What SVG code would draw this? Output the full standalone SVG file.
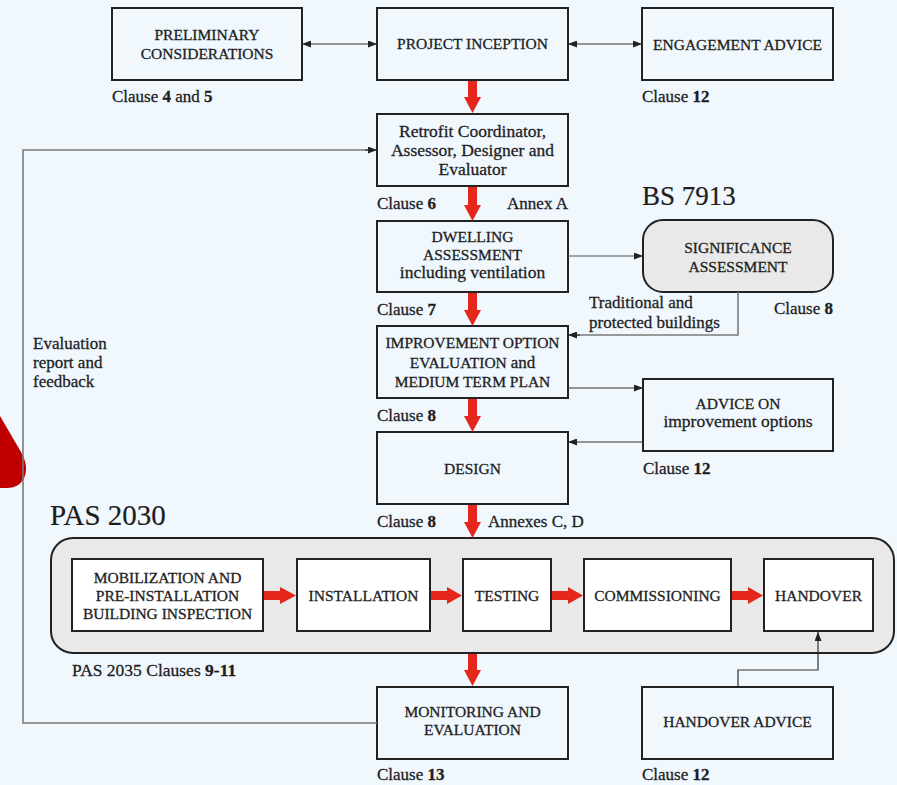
<svg xmlns="http://www.w3.org/2000/svg" width="897" height="785" viewBox="0 0 897 785">
<defs>
<style>
.bg{fill:#f0f8fe}
.box{fill:none;stroke:#222;stroke-width:2}
.wbox{fill:#fff;stroke:#222;stroke-width:2}
.gbox{fill:#e9e9e9;stroke:#222;stroke-width:2}
.red{fill:#e5261a}
.ln{fill:none;stroke:#333;stroke-width:1.2}
.gl{fill:none;stroke:#7a7a7a;stroke-width:1.6}
text{font-family:"Liberation Serif","DejaVu Serif",serif;fill:#1e1e1e;stroke:#1e1e1e;stroke-width:0.3}
.c{font-size:15.5px;text-anchor:middle}
.cm{font-size:17.5px;text-anchor:middle}
.l{font-size:17px}
.b{font-weight:bold}
.big{font-size:27px;stroke-width:0.2}
</style>
<marker id="ah" markerUnits="userSpaceOnUse" markerWidth="9" markerHeight="7" refX="9" refY="3.5" orient="auto">
<path d="M0,0 L9,3.5 L0,7 z" fill="#222"/>
</marker>
<marker id="as" markerUnits="userSpaceOnUse" markerWidth="9" markerHeight="7" refX="0" refY="3.5" orient="auto">
<path d="M9,0 L0,3.5 L9,7 z" fill="#222"/>
</marker>
</defs>
<rect class="bg" x="0" y="0" width="897" height="785"/>
<path d="M0,416 L21,452 Q30,468 23,480 Q17,489 5,488 L0,488 Z" fill="#c00000"/>

<g id="preliminary">
<rect class="box" x="112" y="8" width="190" height="72"/>
<text class="c" x="207" y="40">PRELIMINARY</text>
<text class="c" x="207" y="59">CONSIDERATIONS</text>
<text class="l" x="112" y="102">Clause <tspan class="b">4</tspan> and <tspan class="b">5</tspan></text>
</g>
<g id="inception">
<rect class="box" x="377" y="8" width="191" height="72"/>
<text class="c" x="472.5" y="49">PROJECT INCEPTION</text>
</g>
<g id="engagement">
<rect class="box" x="642" y="8" width="191" height="72"/>
<text class="c" x="737.5" y="50">ENGAGEMENT ADVICE</text>
<text class="l" x="642" y="102">Clause <tspan class="b">12</tspan></text>
</g>
<g id="retrofit">
<rect class="box" x="377" y="114" width="191" height="72"/>
<text class="cm" x="472.5" y="137">Retrofit Coordinator,</text>
<text class="cm" x="472.5" y="156">Assessor, Designer and</text>
<text class="cm" x="472.5" y="175">Evaluator</text>
<text class="l" x="377" y="209">Clause <tspan class="b">6</tspan></text>
<text class="l" x="568" y="209" text-anchor="end">Annex A</text>
</g>
<g id="dwelling">
<rect class="box" x="377" y="221" width="191" height="71"/>
<text class="c" x="472.5" y="242">DWELLING</text>
<text class="c" x="472.5" y="260">ASSESSMENT</text>
<text class="cm" x="472.5" y="278">including ventilation</text>
<text class="l" x="377" y="315">Clause <tspan class="b">7</tspan></text>
</g>
<g id="significance">
<text class="big" x="642" y="205">BS 7913</text>
<rect class="gbox" x="643" y="220" width="190" height="72" rx="20"/>
<text class="c" x="738" y="253">SIGNIFICANCE</text>
<text class="c" x="738" y="272">ASSESSMENT</text>
<text class="l" x="833" y="314" text-anchor="end">Clause <tspan class="b">8</tspan></text>
<text class="l" x="589" y="308">Traditional and</text>
<text class="l" x="589" y="328">protected buildings</text>
</g>
<g id="improvement">
<rect class="box" x="377" y="326" width="191" height="72"/>
<text class="c" x="472.5" y="348">IMPROVEMENT OPTION</text>
<text class="c" x="472.5" y="368">EVALUATION <tspan style="font-size:17px">and</tspan></text>
<text class="c" x="472.5" y="387">MEDIUM TERM PLAN</text>
<text class="l" x="377" y="421">Clause <tspan class="b">8</tspan></text>
</g>
<g id="advice">
<rect class="box" x="643" y="379" width="190" height="72"/>
<text class="c" x="738" y="409">ADVICE ON</text>
<text class="cm" x="738" y="427">improvement options</text>
<text class="l" x="643" y="474">Clause <tspan class="b">12</tspan></text>
</g>
<g id="design">
<rect class="box" x="377" y="432" width="191" height="72"/>
<text class="c" x="472.5" y="474">DESIGN</text>
<text class="l" x="377" y="527">Clause <tspan class="b">8</tspan></text>
<text class="l" x="488" y="527">Annexes C, D</text>
</g>
<g id="pas2030">
<text class="big" x="50" y="525" style="font-size:29px">PAS 2030</text>
<rect class="gbox" x="51" y="538" width="843" height="115" rx="22"/>
<text class="l" x="72" y="676" style="font-size:17.5px">PAS 2035 Clauses <tspan class="b">9-11</tspan></text>
</g>
<g id="mobilization">
<rect class="wbox" x="72" y="559" width="191" height="72"/>
<text class="c" x="167.5" y="583">MOBILIZATION AND</text>
<text class="c" x="167.5" y="601">PRE-INSTALLATION</text>
<text class="c" x="167.5" y="619">BUILDING INSPECTION</text>
</g>
<g id="installation">
<rect class="wbox" x="297" y="559" width="133" height="72"/>
<text class="c" x="363.5" y="601">INSTALLATION</text>
</g>
<g id="testing">
<rect class="wbox" x="463" y="559" width="88" height="72"/>
<text class="c" x="507" y="601">TESTING</text>
</g>
<g id="commissioning">
<rect class="wbox" x="584" y="559" width="147" height="72"/>
<text class="c" x="657.5" y="601">COMMISSIONING</text>
</g>
<g id="handover">
<rect class="wbox" x="764" y="559" width="109" height="72"/>
<text class="c" x="818.5" y="601">HANDOVER</text>
</g>
<g id="monitoring">
<rect class="box" x="377" y="687" width="191" height="72"/>
<text class="c" x="472.5" y="717">MONITORING AND</text>
<text class="c" x="472.5" y="735">EVALUATION</text>
<text class="l" x="377" y="780">Clause <tspan class="b">13</tspan></text>
</g>
<g id="handover-advice">
<rect class="box" x="642" y="687" width="191" height="72"/>
<text class="c" x="737.5" y="727">HANDOVER ADVICE</text>
<text class="l" x="642" y="780">Clause <tspan class="b">12</tspan></text>
</g>
<g id="feedback-label">
<text class="l" x="33" y="349">Evaluation</text>
<text class="l" x="33" y="368">report and</text>
<text class="l" x="33" y="387">feedback</text>
</g>

<g id="connectors">
<line class="ln" x1="302" y1="44" x2="377" y2="44" marker-start="url(#as)" marker-end="url(#ah)"/>
<line class="ln" x1="568" y1="44" x2="642" y2="44" marker-start="url(#as)" marker-end="url(#ah)"/>
<polyline class="gl" points="377,723 23,723 23,150 370,150"/>
<line class="ln" x1="365" y1="150" x2="377" y2="150" marker-end="url(#ah)"/>
<line class="ln" x1="568" y1="256" x2="643" y2="256" marker-end="url(#ah)" style="stroke:#555"/>
<polyline class="gl" points="738,292 738,335 575,335"/>
<line class="ln" x1="580" y1="335" x2="568" y2="335" marker-end="url(#ah)"/>
<line class="ln" x1="568" y1="388" x2="643" y2="388" marker-end="url(#ah)"/>
<line class="ln" x1="643" y1="442" x2="568" y2="442" marker-end="url(#ah)"/>
<polyline class="ln" points="738,686 738,670 818,670 818,632" marker-end="url(#ah)"/>
<polygon class="red" points="468,81 477,81 477,97 481,97 472.5,113 464,97 468,97"/>
<polygon class="red" points="468,187 477,187 477,205 481,205 472.5,221 464,205 468,205"/>
<polygon class="red" points="468,293 477,293 477,310 481,310 472.5,326 464,310 468,310"/>
<polygon class="red" points="468,399 477,399 477,416 481,416 472.5,432 464,416 468,416"/>
<polygon class="red" points="468,505 477,505 477,522 481,522 472.5,538 464,522 468,522"/>
<polygon class="red" points="468,654 477,654 477,670 481,670 472.5,686 464,670 468,670"/>
<polygon class="red" points="264,591 280,591 280,587 296,595.5 280,604 280,600 264,600"/>
<polygon class="red" points="431,591 447,591 447,587 462,595.5 447,604 447,600 431,600"/>
<polygon class="red" points="552,591 568,591 568,587 583,595.5 568,604 568,600 552,600"/>
<polygon class="red" points="732,591 748,591 748,587 763,595.5 748,604 748,600 732,600"/>
</g>
</svg>
